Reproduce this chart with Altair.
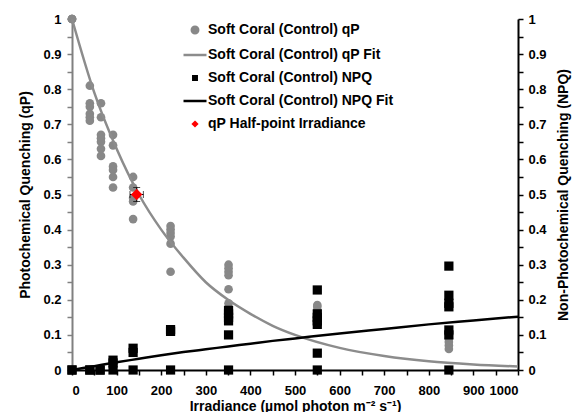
import altair as alt
import pandas as pd

FONT = "Liberation Sans"
X_TITLE = "Irradiance (µmol photon m⁻² s⁻¹)"
YL_TITLE = "Photochemical Quenching (qP)"
YR_TITLE = "Non-Photochemical Quenching (NPQ)"

# legend series
series_names = [
    "Soft Coral (Control) qP",
    "Soft Coral (Control) qP Fit",
    "Soft Coral (Control) NPQ",
    "Soft Coral (Control) NPQ Fit",
    "qP Half-point Irradiance",
]
series_colors = ["#888888", "#8c8c8c", "#000000", "#000000", "#ff0000"]
# legend glyphs: circle, line, square, line, diamond (unit-box paths)
series_shapes = [
    "M-0.28,0A0.28,0.28,0,1,1,0.28,0A0.28,0.28,0,1,1,-0.28,0Z",
    "M-1,0L1,0",
    "M-0.15,-0.15H0.15V0.15H-0.15Z",
    "M-1,0L1,0",
    "M0,-0.16L0.16,0L0,0.16L-0.16,0Z",
]

# qP measurements by irradiance
qp_levels = {
    0: [1.0, 1.0, 1.0, 1.0],
    40: [0.81, 0.76, 0.75, 0.73, 0.72, 0.71],
    65: [0.76, 0.72, 0.67, 0.66, 0.65, 0.63, 0.61],
    92: [0.67, 0.64, 0.58, 0.57, 0.55, 0.52],
    137: [0.55, 0.52, 0.49, 0.48, 0.43],
    221: [0.41, 0.40, 0.39, 0.38, 0.36, 0.28],
    351: [0.30, 0.29, 0.28, 0.27, 0.23, 0.19],
    550: [0.185, 0.18, 0.17, 0.16, 0.15, 0.13],
    845: [0.10, 0.09, 0.08, 0.07, 0.06],
}

# NPQ measurements by irradiance
npq_levels = {
    0: [0.0, 0.0],
    40: [0.0, 0.0],
    63: [0.0, 0.0],
    92: [0.028, 0.02, 0.0],
    137: [0.062, 0.05, 0.0],
    221: [0.115, 0.11, 0.0],
    351: [0.17, 0.16, 0.15, 0.14, 0.10, 0.0],
    550: [0.228, 0.16, 0.15, 0.14, 0.13, 0.048, 0.0],
    845: [0.296, 0.213, 0.19, 0.18, 0.114, 0.10, 0.0],
}

# fitted curves
fit_x = [0, 50, 100, 150, 200, 250, 300, 350, 400, 450, 500, 600, 700, 800, 900, 1000]
qp_fit = [1.0, 0.79, 0.63, 0.50, 0.40, 0.32, 0.25, 0.20, 0.16, 0.126, 0.10, 0.063, 0.04, 0.025, 0.016, 0.01]
npq_fit = [0.0, 0.011, 0.022, 0.032, 0.042, 0.051, 0.059, 0.067, 0.075, 0.083, 0.090, 0.104, 0.117, 0.130, 0.141, 0.152]

# half-point irradiance with errors
half_x = [145]
half_y = [0.50]
half_xerr = [15]
half_yerr = [0.02]

x_ticks = [0, 50, 100, 150, 200, 250, 300, 350, 400, 450, 500, 550, 600, 650, 700, 750, 800, 850, 900, 950, 1000]
y_ticks = [0, 0.05, 0.1, 0.15, 0.2, 0.25, 0.3, 0.35, 0.4, 0.45, 0.5, 0.55, 0.6, 0.65, 0.7, 0.75, 0.8, 0.85, 0.9, 0.95, 1.0]

qp_df = pd.DataFrame([(x, y) for x, ys in qp_levels.items() for y in ys], columns=["x", "y"])
npq_df = pd.DataFrame([(x, y) for x, ys in npq_levels.items() for y in ys], columns=["x", "y"])
qpfit_df = pd.DataFrame({"x": fit_x, "y": qp_fit})
npqfit_df = pd.DataFrame({"x": fit_x, "y": npq_fit})
half_df = pd.DataFrame({
    "x": half_x, "y": half_y,
    "xlo": [a - e for a, e in zip(half_x, half_xerr)],
    "xhi": [a + e for a, e in zip(half_x, half_xerr)],
    "ylo": [a - e for a, e in zip(half_y, half_yerr)],
    "yhi": [a + e for a, e in zip(half_y, half_yerr)],
})
legend_df = pd.DataFrame({"series": pd.Series([], dtype=str)})

xs = alt.Scale(domain=[0, 1000], nice=False)
ys = alt.Scale(domain=[0, 1], nice=False)

common_axis = dict(
    labelFont=FONT, labelFontSize=13, labelFontWeight="bold", labelColor="black",
    titleFont=FONT, titleFontSize=14, titleFontWeight="bold", titleColor="black",
    grid=False, labelOverlap=False, domainWidth=2, tickWidth=1.5, tickSize=5,
)
y_label_expr = "round(datum.value*100) % 10 == 0 ? format(datum.value, '.1~f') : ''"

xaxis = alt.Axis(values=x_ticks, labelExpr="datum.value % 100 == 0 ? format(datum.value, 'd') : ''",
                 domainColor="black", tickColor="black", labelPadding=9, titlePadding=2,
                 **common_axis)
ylaxis = alt.Axis(orient="left", values=y_ticks, labelExpr=y_label_expr,
                  domainColor="#808080", tickColor="#808080", labelPadding=6, titlePadding=10,
                  **common_axis)
yraxis = alt.Axis(orient="right", values=y_ticks, labelExpr=y_label_expr,
                  domainColor="black", tickColor="black", labelPadding=5, titlePadding=10,
                  titleAngle=270, titleBaseline="top", **common_axis)

X = lambda f: alt.X(f, scale=xs, axis=xaxis, title=X_TITLE)
YL = lambda f: alt.Y(f, scale=ys, axis=ylaxis, title=YL_TITLE)
YR = lambda f: alt.Y(f, scale=ys, axis=yraxis, title=YR_TITLE)

qp_pts = alt.Chart(qp_df).mark_point(filled=True, shape="circle", size=75, color="#888888", opacity=1).encode(
    x=X("x:Q"), y=YL("y:Q"))
qp_line = alt.Chart(qpfit_df).mark_line(color="#8c8c8c", strokeWidth=2.5, interpolate="monotone").encode(
    x=X("x:Q"), y=YL("y:Q"))
err_x = alt.Chart(half_df).mark_errorbar(ticks={"size": 7}, color="black", thickness=1).encode(
    x=X("xlo:Q"), x2="xhi:Q", y=YL("y:Q"))
err_y = alt.Chart(half_df).mark_errorbar(ticks={"size": 7}, color="black", thickness=1).encode(
    y=YL("ylo:Q"), y2="yhi:Q", x=X("x:Q"))
half_pt = alt.Chart(half_df).mark_point(filled=True, shape="diamond", size=130, color="#ff0000", opacity=1).encode(
    x=X("x:Q"), y=YL("y:Q"))
qp_group = alt.layer(qp_pts, qp_line, err_x, err_y, half_pt)

npq_pts = alt.Chart(npq_df).mark_point(filled=True, shape="square", size=85, color="black", opacity=1).encode(
    x=X("x:Q"), y=YR("y:Q"))
npq_line = alt.Chart(npqfit_df).mark_line(color="black", strokeWidth=2.5, interpolate="monotone").encode(
    x=X("x:Q"), y=YR("y:Q"))
npq_group = alt.layer(npq_pts, npq_line)

LEG = alt.Legend(title=None, orient="none", legendX=110, legendY=-2, padding=0,
                 labelFont=FONT, labelFontSize=14, labelFontWeight="bold", labelColor="black",
                 labelOffset=0, labelLimit=400, rowPadding=3, symbolSize=529,
                 symbolStrokeWidth=2.5, symbolOpacity=1)
dom = series_names
legend_layer = alt.Chart(legend_df).mark_point(filled=True, strokeWidth=2.5, opacity=1).encode(
    fill=alt.Fill("series:N", scale=alt.Scale(domain=dom, range=series_colors), legend=LEG),
    stroke=alt.Stroke("series:N", scale=alt.Scale(domain=dom, range=series_colors), legend=LEG),
    shape=alt.Shape("series:N", scale=alt.Scale(domain=dom, range=series_shapes), legend=LEG),
)

chart = alt.layer(qp_group, npq_group, legend_layer).resolve_scale(y="independent").properties(
    width=446, height=351, autosize="none",
    padding={"left": 64, "top": 11, "right": 56, "bottom": 42},
).configure_view(stroke=None)

chart.save("out.html", embed_options={"renderer": "svg", "actions": False})
